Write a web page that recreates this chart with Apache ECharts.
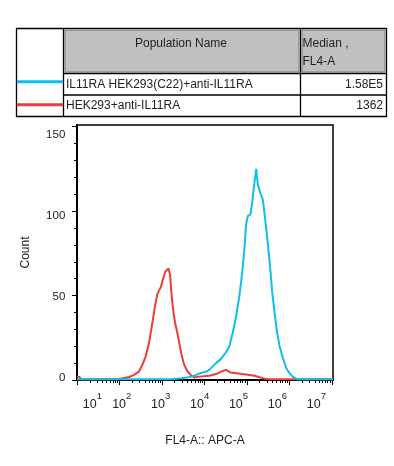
<!DOCTYPE html>
<html>
<head>
<meta charset="utf-8">
<script src="https://cdn.jsdelivr.net/npm/echarts@6/dist/echarts.min.js"></script>
<style>
html,body{margin:0;padding:0;background:#fff;}
#c{width:394px;height:466px;}
</style>
</head>
<body>
<div id="c"></div>
<script>
// ---- data ----
const populationNames = ['IL11RA HEK293(C22)+anti-IL11RA', 'HEK293+anti-IL11RA'];
const medians = ['1.58E5', '1362'];
const seriesColors = ['#0DBEF0', '#F23A3A'];

// [FL4-A intensity, count]
const blueHist = [
  [10, 0.4], [1600, 0.4], [3000, 1], [5200, 2], [7500, 3.8], [10900, 4.8], [13000, 6], [18800, 10],
  [24700, 12.5], [32400, 16.5], [38800, 20], [46500, 28], [55900, 37.5], [66900, 50],
  [77400, 63], [87800, 78], [96000, 92], [105000, 97], [121600, 98], [133400, 105],
  [151300, 117], [166000, 125], [181100, 116], [206300, 111], [237600, 107],
  [270900, 95], [312000, 81], [355600, 66], [396300, 52], [449000, 40], [509000, 29],
  [590000, 20], [706000, 13], [849000, 7], [1016000, 4], [1197000, 2], [1465000, 0.8],
  [1751000, 0.4], [10700000, 0.4]
];
const redHist = [
  [10, 2], [11.5, 1.8], [12.5, 0.4], [87, 0.4], [121, 1], [168, 1.8], [220, 3], [289, 5],
  [346, 9], [416, 14], [498, 22], [596, 34], [679, 43], [783, 51], [942, 55],
  [1068, 60], [1191, 64], [1426, 66], [1564, 62], [1678, 51], [1840, 41.5],
  [2052, 33.5], [2324, 27.5], [2649, 20], [2952, 14], [3347, 9], [4010, 5],
  [4822, 3], [5770, 1.5], [7570, 2], [13060, 2.5], [18800, 3.5], [25100, 5],
  [32400, 6], [40900, 4.5], [56700, 4], [78700, 3.5], [115000, 3], [151300, 2.5],
  [198600, 1.6], [260600, 0.8], [342000, 0.4], [590000, 0.4], [10700000, 0.4]
];

const xMin = 10, xMax = 10700000;
const yMin = 0, yMax = 151;
const xMajorTicks = [10, 100, 1000, 10000, 100000, 1000000, 10000000];
const xMinorTicks = [];
xMajorTicks.slice(0, -1).forEach(function (d) { for (let m = 2; m <= 9; m++) xMinorTicks.push(d * m); });
const yMajorTicks = [0, 50, 100, 150];
const yMinorTicks = [10, 20, 30, 40, 60, 70, 80, 90, 110, 120, 130, 140];
const xAxisTitle = 'FL4-A:: APC-A';
const yAxisTitle = 'Count';

// ---- chart ----
const font = 'Arial, "Liberation Sans", sans-serif';
const txt = '#222';
const chart = echarts.init(document.getElementById('c'), null, {renderer: 'canvas'});

function expLabel(v) {
  const e = Math.round(Math.log10(v));
  return '{b|10}{s|' + e + '}';
}

const hiddenAxis = {axisLine: {show: false}, axisTick: {show: false}, axisLabel: {show: false}, splitLine: {show: false}};

const option = {
  animation: false,
  backgroundColor: '#fff',
  grid: [
    {left: 77, right: 61, top: 125, bottom: 86, show: true, borderColor: '#000', borderWidth: 1.5, backgroundColor: 'transparent'},
    {left: 82.8, right: 76.5, top: 133.4, bottom: 88, show: false}
  ],
  xAxis: [
    {
      type: 'log', logBase: 10, gridIndex: 0, position: 'bottom', min: xMin, max: xMax,
      axisLine: {show: true, onZero: false, lineStyle: {color: '#000', width: 2}},
      axisTick: {show: true, length: 5, lineStyle: {color: '#000', width: 1}, customValues: xMajorTicks},
      axisLabel: {show: false}, splitLine: {show: false}, minorTick: {show: false},
      name: xAxisTitle, nameLocation: 'middle', nameGap: 55,
      nameTextStyle: {fontFamily: font, fontSize: 12, color: txt}
    },
    Object.assign({type: 'log', logBase: 10, gridIndex: 0, position: 'bottom', min: xMin, max: xMax}, hiddenAxis, {
      axisLine: {show: false, onZero: false},
      axisTick: {show: true, length: 3, lineStyle: {color: '#000', width: 1}, customValues: xMinorTicks}
    }),
    Object.assign({type: 'log', logBase: 10, gridIndex: 1, position: 'bottom', min: xMin, max: xMax}, hiddenAxis, {
      axisLine: {show: false, onZero: false},
      axisLabel: {
        show: true, customValues: xMajorTicks, margin: 13, formatter: expLabel, alignMinLabel: 'left',
        rich: {
          b: {fontFamily: font, fontSize: 12.5, color: txt, lineHeight: 20, verticalAlign: 'bottom'},
          s: {fontFamily: font, fontSize: 9.5, color: txt, lineHeight: 20, verticalAlign: 'top'}
        }
      }
    })
  ],
  yAxis: [
    {
      type: 'value', gridIndex: 0, position: 'left', min: yMin, max: yMax,
      axisLine: {show: true, onZero: false, lineStyle: {color: '#000', width: 2}},
      axisTick: {show: true, length: 5, lineStyle: {color: '#000', width: 1}, customValues: yMajorTicks},
      axisLabel: {show: false}, splitLine: {show: false},
      name: yAxisTitle, nameLocation: 'middle', nameGap: 45,
      nameTextStyle: {fontFamily: font, fontSize: 12, color: txt}
    },
    Object.assign({type: 'value', gridIndex: 0, position: 'left', min: yMin, max: yMax}, hiddenAxis, {
      axisLine: {show: false, onZero: false},
      axisTick: {show: true, length: 3, lineStyle: {color: '#000', width: 1}, customValues: yMinorTicks}
    }),
    Object.assign({type: 'value', gridIndex: 1, position: 'left', min: yMin, max: yMax}, hiddenAxis, {
      axisLine: {show: false, onZero: false},
      axisLabel: {show: true, customValues: yMajorTicks, margin: 17.5, fontFamily: font, fontSize: 11.5, color: txt}
    })
  ],
  series: [
    {
      type: 'line', xAxisIndex: 0, yAxisIndex: 0, data: redHist, showSymbol: false, symbol: 'none',
      lineStyle: {color: seriesColors[1], width: 2}, clip: true, z: 3
    },
    {
      type: 'line', xAxisIndex: 0, yAxisIndex: 0, data: blueHist, showSymbol: false, symbol: 'none',
      lineStyle: {color: seriesColors[0], width: 2}, clip: true, z: 4
    }
  ],
  graphic: [
    {type: 'rect', shape: {x: 16.5, y: 28.5, width: 370, height: 88}, style: {fill: '#fff', stroke: '#000', lineWidth: 1.3}, z: 1},
    {type: 'rect', shape: {x: 65, y: 30, width: 234, height: 42}, style: {fill: '#c0c0c0', stroke: '#7a7a7a', lineWidth: 1}, z: 2},
    {type: 'rect', shape: {x: 302, y: 30, width: 83, height: 42}, style: {fill: '#c0c0c0', stroke: '#7a7a7a', lineWidth: 1}, z: 2},
    {type: 'line', shape: {x1: 63.5, y1: 28.5, x2: 63.5, y2: 116.5}, style: {stroke: '#000', lineWidth: 1.3}, z: 3},
    {type: 'line', shape: {x1: 300.5, y1: 28.5, x2: 300.5, y2: 116.5}, style: {stroke: '#000', lineWidth: 1.3}, z: 3},
    {type: 'line', shape: {x1: 63.5, y1: 73.5, x2: 386.5, y2: 73.5}, style: {stroke: '#000', lineWidth: 1.3}, z: 3},
    {type: 'line', shape: {x1: 63.5, y1: 95, x2: 386.5, y2: 95}, style: {stroke: '#000', lineWidth: 1.3}, z: 3},
    {type: 'line', shape: {x1: 17, y1: 81.7, x2: 63, y2: 81.7}, style: {stroke: seriesColors[0], lineWidth: 3}, z: 3},
    {type: 'line', shape: {x1: 17, y1: 104.7, x2: 63, y2: 104.7}, style: {stroke: seriesColors[1], lineWidth: 3}, z: 3},
    {type: 'text', x: 181, y: 43.5, style: {text: 'Population Name', font: '12px ' + font, fill: txt, align: 'center', verticalAlign: 'middle'}, z: 4},
    {type: 'text', x: 302.5, y: 43.5, style: {text: 'Median ,', font: '12px ' + font, fill: txt, align: 'left', verticalAlign: 'middle'}, z: 4},
    {type: 'text', x: 302.5, y: 62, style: {text: 'FL4-A', font: '12px ' + font, fill: txt, align: 'left', verticalAlign: 'middle'}, z: 4},
    {type: 'text', x: 66, y: 84.5, style: {text: populationNames[0], font: '12px ' + font, fill: txt, align: 'left', verticalAlign: 'middle'}, z: 4},
    {type: 'text', x: 383, y: 84.5, style: {text: medians[0], font: '12px ' + font, fill: txt, align: 'right', verticalAlign: 'middle'}, z: 4},
    {type: 'text', x: 66, y: 105.5, style: {text: populationNames[1], font: '12px ' + font, fill: txt, align: 'left', verticalAlign: 'middle'}, z: 4},
    {type: 'text', x: 383, y: 105.5, style: {text: medians[1], font: '12px ' + font, fill: txt, align: 'right', verticalAlign: 'middle'}, z: 4}
  ]
};
chart.setOption(option);
</script>
</body>
</html>
